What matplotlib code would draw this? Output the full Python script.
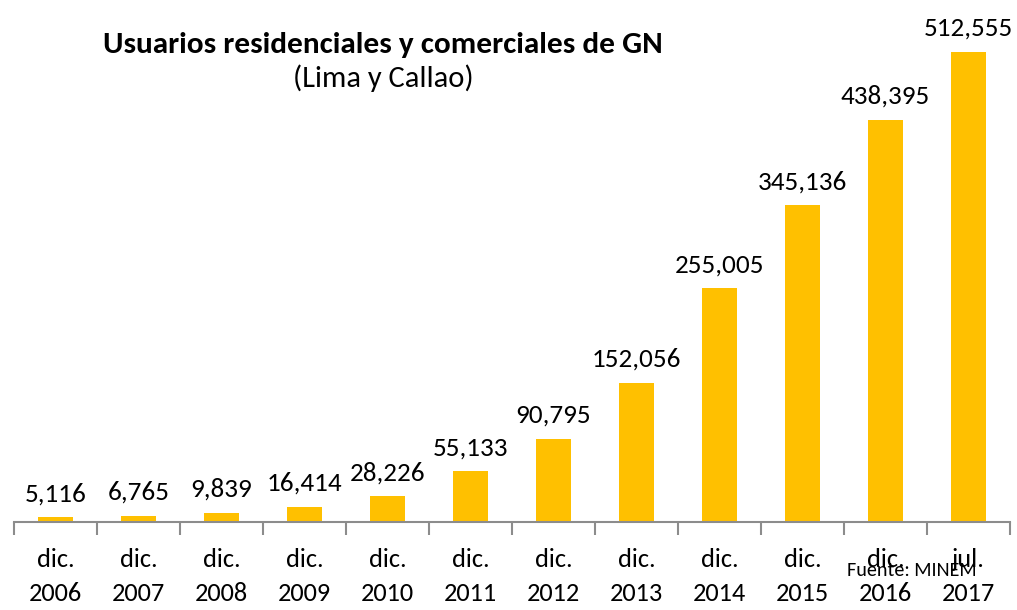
import matplotlib.pyplot as plt
import numpy as np

plt.rcParams['font.family'] = ['Carlito', 'Lato', 'DejaVu Sans']

periodos = ['dic.\n2006', 'dic.\n2007', 'dic.\n2008', 'dic.\n2009', 'dic.\n2010', 'dic.\n2011',
            'dic.\n2012', 'dic.\n2013', 'dic.\n2014', 'dic.\n2015', 'dic.\n2016', 'jul.\n2017']
usuarios = [5116, 6765, 9839, 16414, 28226, 55133, 90795, 152056, 255005, 345136, 438395, 512555]

x = np.arange(len(periodos))
fig = plt.figure(figsize=(10.17, 6.10), dpi=100)
ax = fig.add_axes([14 / 1017, 88 / 610, 996 / 1017, 522 / 610])

ax.bar(x, usuarios, width=0.41, color='#FFC000')
for xi, v in zip(x, usuarios):
    ax.text(xi, v + 13000, f'{v:,}', ha='center', va='bottom', fontsize=19.5, color='black')

ax.set_xlim(-0.5, len(periodos) - 0.5)
ax.set_ylim(0, 569000)
for s in ['top', 'right', 'left']:
    ax.spines[s].set_visible(False)
ax.spines['bottom'].set_color('#8c8c8c')
ax.spines['bottom'].set_linewidth(1.5)
ax.set_yticks([])
ax.set_xticks(x)
ax.set_xticklabels(periodos, fontsize=19, linespacing=1.55)
ax.tick_params(axis='x', which='major', length=0, pad=19)
ax.set_xticks(np.arange(-0.5, len(periodos)), minor=True)
ax.tick_params(axis='x', which='minor', length=9, width=1.5, color='#8c8c8c')

fig.text(383 / 1017, 1 - 45 / 610, 'Usuarios residenciales y comerciales de GN', ha='center', va='center',
         fontsize=22.5, fontweight='bold')
fig.text(383 / 1017, 1 - 78 / 610, '(Lima y Callao)', ha='center', va='center', fontsize=22)
fig.text(912 / 1017, 1 - 570 / 610, 'Fuente: MINEM', ha='center', va='center', fontsize=14.5)

fig.savefig('out.png', dpi=100)
